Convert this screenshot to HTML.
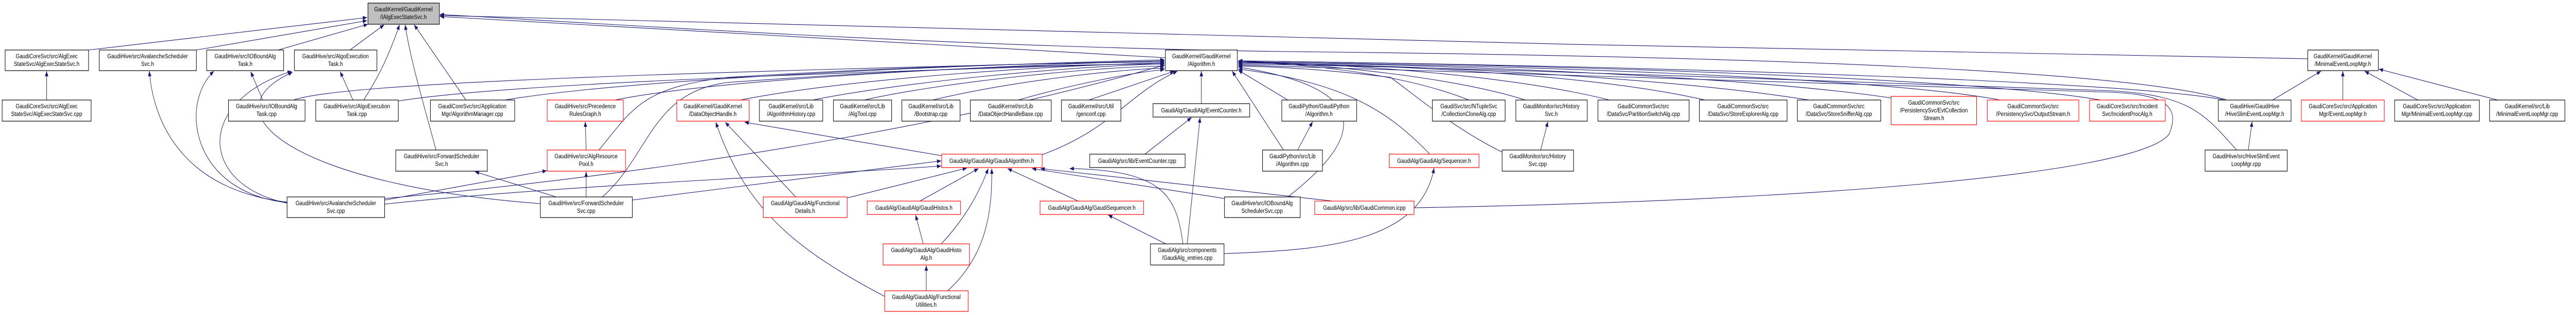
<!DOCTYPE html>
<html><head><meta charset="utf-8"><style>
html,body{margin:0;padding:0;background:#fff;width:100%;height:100%;overflow:hidden;}
svg{display:block;width:100vw;height:100vh;}
text{font-family:"Liberation Sans",Arial,sans-serif;font-size:12px;fill:#000;text-anchor:middle;}
.b{fill:#fff;stroke:#000;stroke-width:1.2;}
.r{fill:#fff;stroke:#f00;stroke-width:1.2;}
.g{fill:#bfbfbf;stroke:#000;stroke-width:1.2;}
.e{fill:none;stroke:#191970;stroke-width:1.1;marker-end:url(#a);}
</style></head><body>
<svg viewBox="0 0 6021 611" preserveAspectRatio="none" xmlns="http://www.w3.org/2000/svg">
<defs><marker id="a" markerUnits="userSpaceOnUse" markerWidth="11" markerHeight="8" refX="10" refY="4" orient="auto"><path d="M0,0 L10,4 L0,8 z" fill="#191970"/></marker></defs>
<g>
<path class="e" d="M207 97 L858 34"/>
<path class="e" d="M459 97 L858 40"/>
<path class="e" d="M650 97 L860 47"/>
<path class="e" d="M818 97 L898 48"/>
<path class="e" d="M850 194 C900 130,920 80,934 48"/>
<path class="e" d="M1019 291 C990 200,960 120,947 48"/>
<path class="e" d="M1089 194 L968 48"/>
<path class="e" d="M2724 112 L1028 32"/>
<path class="e" d="M5394 114 C4000 95,2000 55,1028 30"/>
<path class="e" d="M5205 194 C5000 140,4200 110,3000 100 C2200 90,1500 50,1028 28"/>
<path class="e" d="M109 194 L109 138"/>
<path class="e" d="M671 392 C440 370,360 250,349 138"/>
<path class="e" d="M671 393 C445 372,420 200,500 138"/>
<path class="e" d="M671 394 C470 360,450 200,682 138"/>
<path class="e" d="M1263 395 C700 360,470 220,684 140"/>
<path class="e" d="M614 194 L586 139"/>
<path class="e" d="M825 194 L795 139"/>
<path class="e" d="M686 194 C800 160,1600 140,2722 118"/>
<path class="e" d="M930 196 C1200 160,2000 140,2722 122"/>
<path class="e" d="M899 385 C1100 370,2000 300,2722 126"/>
<path class="e" d="M899 388 L1278 331"/>
<path class="e" d="M1300 382 L1110 333"/>
<path class="e" d="M1370 382 L1370 333"/>
<path class="e" d="M1370 291 L1368 236"/>
<path class="e" d="M1400 291 C1480 210,1500 170,1700 150 C2200 125,2500 122,2722 120"/>
<path class="e" d="M1408 382 C1520 300,1520 180,1700 160 C2200 130,2500 125,2722 124"/>
<path class="e" d="M1478 388 L2200 312"/>
<path class="e" d="M899 396 C1300 360,1900 340,2200 322"/>
<path class="e" d="M1437 194 C1700 150,2400 125,2722 118"/>
<path class="e" d="M1180 194 C1500 150,2300 125,2722 116"/>
<path class="e" d="M1730 194 C2000 150,2500 125,2722 122"/>
<path class="e" d="M1900 194 C2100 160,2500 128,2722 124"/>
<path class="e" d="M2020 194 C2200 160,2550 130,2722 128"/>
<path class="e" d="M2180 194 C2350 160,2600 135,2722 132"/>
<path class="e" d="M2380 194 C2500 165,2650 140,2722 135"/>
<path class="e" d="M2545 194 L2745 138"/>
<path class="e" d="M2436 300 C2600 250,2640 180,2752 138"/>
<path class="e" d="M2201 302 L1740 237"/>
<path class="e" d="M1860 382 L1695 237"/>
<path class="e" d="M2068 575 C1850 480,1740 400,1673 237"/>
<path class="e" d="M1980 384 L2260 326"/>
<path class="e" d="M2808 201 L2808 138"/>
<path class="e" d="M2676 299 L2785 228"/>
<path class="e" d="M2775 473 L2805 228"/>
<path class="e" d="M2765 473 C2750 380,2720 330,2500 327"/>
<path class="e" d="M2725 473 L2590 417"/>
<path class="e" d="M2861 492 C3100 485,3320 470,3352 326"/>
<path class="e" d="M2150 390 L2287 327"/>
<path class="e" d="M2158 473 L2140 417"/>
<path class="e" d="M2200 473 C2260 420,2290 370,2310 327"/>
<path class="e" d="M2165 564 L2165 515"/>
<path class="e" d="M2215 564 C2300 500,2320 420,2318 327"/>
<path class="e" d="M2520 390 L2355 327"/>
<path class="e" d="M2862 385 L2412 327"/>
<path class="e" d="M3115 390 L2432 327"/>
<path class="e" d="M3305 403 C4200 390,5000 340,5070 260 C5100 200,5050 180,4900 178 L2894 126"/>
<path class="e" d="M3010 382 C3200 260,3200 170,2894 130"/>
<path class="e" d="M3010 194 L2894 136"/>
<path class="e" d="M3033 291 L3068 236"/>
<path class="e" d="M3000 291 L2880 138"/>
<path class="e" d="M3342 299 C3250 220,3150 160,2894 134"/>
<path class="e" d="M3433 194 C3300 150,3100 125,2894 120"/>
<path class="e" d="M3565 194 C3400 150,3100 125,2894 118"/>
<path class="e" d="M3762 194 C3550 150,3200 125,2894 120"/>
<path class="e" d="M3985 194 C3700 140,3200 125,2894 122"/>
<path class="e" d="M4228 194 C3900 150,3300 125,2894 122"/>
<path class="e" d="M4420 190 C4100 150,3400 125,2894 120"/>
<path class="e" d="M4675 194 C4400 150,3500 125,2894 120"/>
<path class="e" d="M4910 194 C4600 150,3600 125,2894 118"/>
<path class="e" d="M5200 194 C5000 160,4000 130,2894 118"/>
<path class="e" d="M5228 291 C5150 220,5120 180,4900 175 C4000 150,3400 130,2894 124"/>
<path class="e" d="M3601 291 L3618 236"/>
<path class="e" d="M3511 295 C3400 250,3300 180,3250 150 C3100 135,3000 130,2894 128"/>
<path class="e" d="M5312 194 L5425 138"/>
<path class="e" d="M5476 194 L5476 138"/>
<path class="e" d="M5651 194 L5527 138"/>
<path class="e" d="M5838 194 L5560 134"/>
<path class="e" d="M5255 291 L5264 236"/>
</g>
<g>
<rect class="g" x="860" y="6" width="167" height="41"/><text x="943" y="22">GaudiKernel/GaudiKernel</text><text x="943" y="37">/IAlgExecStateSvc.h</text>

<rect class="b" x="12" y="97" width="195" height="40"/><text x="109" y="113">GaudiCoreSvc/src/AlgExec</text><text x="109" y="128">StateSvc/AlgExecStateSvc.h</text>
<rect class="b" x="232" y="97" width="227" height="40"/><text x="345" y="113">GaudiHive/src/AvalancheScheduler</text><text x="345" y="128">Svc.h</text>
<rect class="b" x="483" y="97" width="180" height="40"/><text x="573" y="113">GaudiHive/src/IOBoundAlg</text><text x="573" y="128">Task.h</text>
<rect class="b" x="688" y="97" width="193" height="40"/><text x="784" y="113">GaudiHive/src/AlgoExecution</text><text x="784" y="128">Task.h</text>
<rect class="b" x="2724" y="97" width="168" height="40"/><text x="2808" y="113">GaudiKernel/GaudiKernel</text><text x="2808" y="128">/Algorithm.h</text>
<rect class="b" x="5394" y="97" width="165" height="40"/><text x="5476" y="113">GaudiKernel/GaudiKernel</text><text x="5476" y="128">/MinimalEventLoopMgr.h</text>

<rect class="b" x="5" y="194" width="208" height="41"/><text x="109" y="210">GaudiCoreSvc/src/AlgExec</text><text x="109" y="225">StateSvc/AlgExecStateSvc.cpp</text>
<rect class="b" x="534" y="194" width="179" height="41"/><text x="623" y="210">GaudiHive/src/IOBoundAlg</text><text x="623" y="225">Task.cpp</text>
<rect class="b" x="738" y="194" width="193" height="41"/><text x="834" y="210">GaudiHive/src/AlgoExecution</text><text x="834" y="225">Task.cpp</text>
<rect class="b" x="1006" y="194" width="197" height="41"/><text x="1104" y="210">GaudiCoreSvc/src/Application</text><text x="1104" y="225">Mgr/AlgorithmManager.cpp</text>
<rect class="r" x="1279" y="194" width="178" height="41"/><text x="1368" y="210">GaudiHive/src/Precedence</text><text x="1368" y="225">RulesGraph.h</text>
<rect class="r" x="1582" y="194" width="169" height="41"/><text x="1666" y="210">GaudiKernel/GaudiKernel</text><text x="1666" y="225">/DataObjectHandle.h</text>
<rect class="b" x="1775" y="194" width="148" height="41"/><text x="1849" y="210">GaudiKernel/src/Lib</text><text x="1849" y="225">/AlgorithmHistory.cpp</text>
<rect class="b" x="1948" y="194" width="136" height="41"/><text x="2016" y="210">GaudiKernel/src/Lib</text><text x="2016" y="225">/AlgTool.cpp</text>
<rect class="b" x="2108" y="194" width="136" height="41"/><text x="2176" y="210">GaudiKernel/src/Lib</text><text x="2176" y="225">/Bootstrap.cpp</text>
<rect class="b" x="2268" y="194" width="189" height="41"/><text x="2362" y="210">GaudiKernel/src/Lib</text><text x="2362" y="225">/DataObjectHandleBase.cpp</text>
<rect class="b" x="2481" y="194" width="139" height="41"/><text x="2550" y="210">GaudiKernel/src/Util</text><text x="2550" y="225">/genconf.cpp</text>
<rect class="b" x="2695" y="201" width="226" height="26"/><text x="2808" y="218">GaudiAlg/GaudiAlg/EventCounter.h</text>
<rect class="b" x="2996" y="194" width="175" height="41"/><text x="3083" y="210">GaudiPython/GaudiPython</text><text x="3083" y="225">/Algorithm.h</text>
<rect class="b" x="3348" y="194" width="170" height="41"/><text x="3433" y="210">GaudiSvc/src/NTupleSvc</text><text x="3433" y="225">/CollectionCloneAlg.cpp</text>
<rect class="b" x="3543" y="194" width="167" height="41"/><text x="3626" y="210">GaudiMonitor/src/History</text><text x="3626" y="225">Svc.h</text>
<rect class="b" x="3735" y="194" width="213" height="41"/><text x="3841" y="210">GaudiCommonSvc/src</text><text x="3841" y="225">/DataSvc/PartitionSwitchAlg.cpp</text>
<rect class="b" x="3972" y="194" width="205" height="41"/><text x="4074" y="210">GaudiCommonSvc/src</text><text x="4074" y="225">/DataSvc/StoreExplorerAlg.cpp</text>
<rect class="b" x="4201" y="194" width="195" height="41"/><text x="4298" y="210">GaudiCommonSvc/src</text><text x="4298" y="225">/DataSvc/StoreSnifferAlg.cpp</text>
<rect class="r" x="4420" y="187" width="200" height="55"/><text x="4520" y="203">GaudiCommonSvc/src</text><text x="4520" y="218">/PersistencySvc/EvtCollection</text><text x="4520" y="233">Stream.h</text>
<rect class="r" x="4645" y="194" width="214" height="41"/><text x="4752" y="210">GaudiCommonSvc/src</text><text x="4752" y="225">/PersistencySvc/OutputStream.h</text>
<rect class="r" x="4884" y="194" width="177" height="41"/><text x="4972" y="210">GaudiCoreSvc/src/Incident</text><text x="4972" y="225">Svc/IncidentProcAlg.h</text>
<rect class="b" x="5185" y="194" width="170" height="41"/><text x="5270" y="210">GaudiHive/GaudiHive</text><text x="5270" y="225">/HiveSlimEventLoopMgr.h</text>
<rect class="r" x="5379" y="194" width="194" height="41"/><text x="5476" y="210">GaudiCoreSvc/src/Application</text><text x="5476" y="225">Mgr/EventLoopMgr.h</text>
<rect class="b" x="5597" y="194" width="198" height="41"/><text x="5696" y="210">GaudiCoreSvc/src/Application</text><text x="5696" y="225">Mgr/MinimalEventLoopMgr.cpp</text>
<rect class="b" x="5819" y="194" width="176" height="41"/><text x="5907" y="210">GaudiKernel/src/Lib</text><text x="5907" y="225">/MinimalEventLoopMgr.cpp</text>

<rect class="b" x="925" y="291" width="214" height="41"/><text x="1032" y="307">GaudiHive/src/ForwardScheduler</text><text x="1032" y="322">Svc.h</text>
<rect class="r" x="1279" y="291" width="183" height="41"/><text x="1370" y="307">GaudiHive/src/AlgResource</text><text x="1370" y="322">Pool.h</text>
<rect class="r" x="2201" y="299" width="235" height="26"/><text x="2318" y="316">GaudiAlg/GaudiAlg/GaudiAlgorithm.h</text>
<rect class="b" x="2547" y="299" width="223" height="26"/><text x="2658" y="316">GaudiAlg/src/lib/EventCounter.cpp</text>
<rect class="b" x="2951" y="291" width="140" height="41"/><text x="3021" y="307">GaudiPython/src/Lib</text><text x="3021" y="322">/Algorithm.cpp</text>
<rect class="r" x="3247" y="299" width="210" height="26"/><text x="3352" y="316">GaudiAlg/GaudiAlg/Sequencer.h</text>
<rect class="b" x="3511" y="291" width="167" height="41"/><text x="3594" y="307">GaudiMonitor/src/History</text><text x="3594" y="322">Svc.cpp</text>
<rect class="b" x="5154" y="291" width="192" height="41"/><text x="5250" y="307">GaudiHive/src/HiveSlimEvent</text><text x="5250" y="322">LoopMgr.cpp</text>

<rect class="b" x="671" y="382" width="228" height="40"/><text x="785" y="398">GaudiHive/src/AvalancheScheduler</text><text x="785" y="413">Svc.cpp</text>
<rect class="b" x="1263" y="382" width="215" height="40"/><text x="1370" y="398">GaudiHive/src/ForwardScheduler</text><text x="1370" y="413">Svc.cpp</text>
<rect class="r" x="1784" y="382" width="196" height="40"/><text x="1882" y="398">GaudiAlg/GaudiAlg/Functional</text><text x="1882" y="413">Details.h</text>
<rect class="r" x="2027" y="390" width="218" height="26"/><text x="2136" y="407">GaudiAlg/GaudiAlg/GaudiHistos.h</text>
<rect class="r" x="2431" y="390" width="242" height="26"/><text x="2552" y="407">GaudiAlg/GaudiAlg/GaudiSequencer.h</text>
<rect class="b" x="2862" y="382" width="177" height="40"/><text x="2950" y="398">GaudiHive/src/IOBoundAlg</text><text x="2950" y="413">SchedulerSvc.cpp</text>
<rect class="r" x="3073" y="390" width="232" height="26"/><text x="3189" y="407">GaudiAlg/src/lib/GaudiCommon.icpp</text>

<rect class="r" x="2064" y="473" width="202" height="41"/><text x="2165" y="489">GaudiAlg/GaudiAlg/GaudiHisto</text><text x="2165" y="504">Alg.h</text>
<rect class="b" x="2689" y="473" width="172" height="41"/><text x="2775" y="489">GaudiAlg/src/components</text><text x="2775" y="504">/GaudiAlg_entries.cpp</text>
<rect class="r" x="2068" y="564" width="195" height="40"/><text x="2165" y="580">GaudiAlg/GaudiAlg/Functional</text><text x="2165" y="595">Utilities.h</text>
</g>
</svg>
</body></html>
